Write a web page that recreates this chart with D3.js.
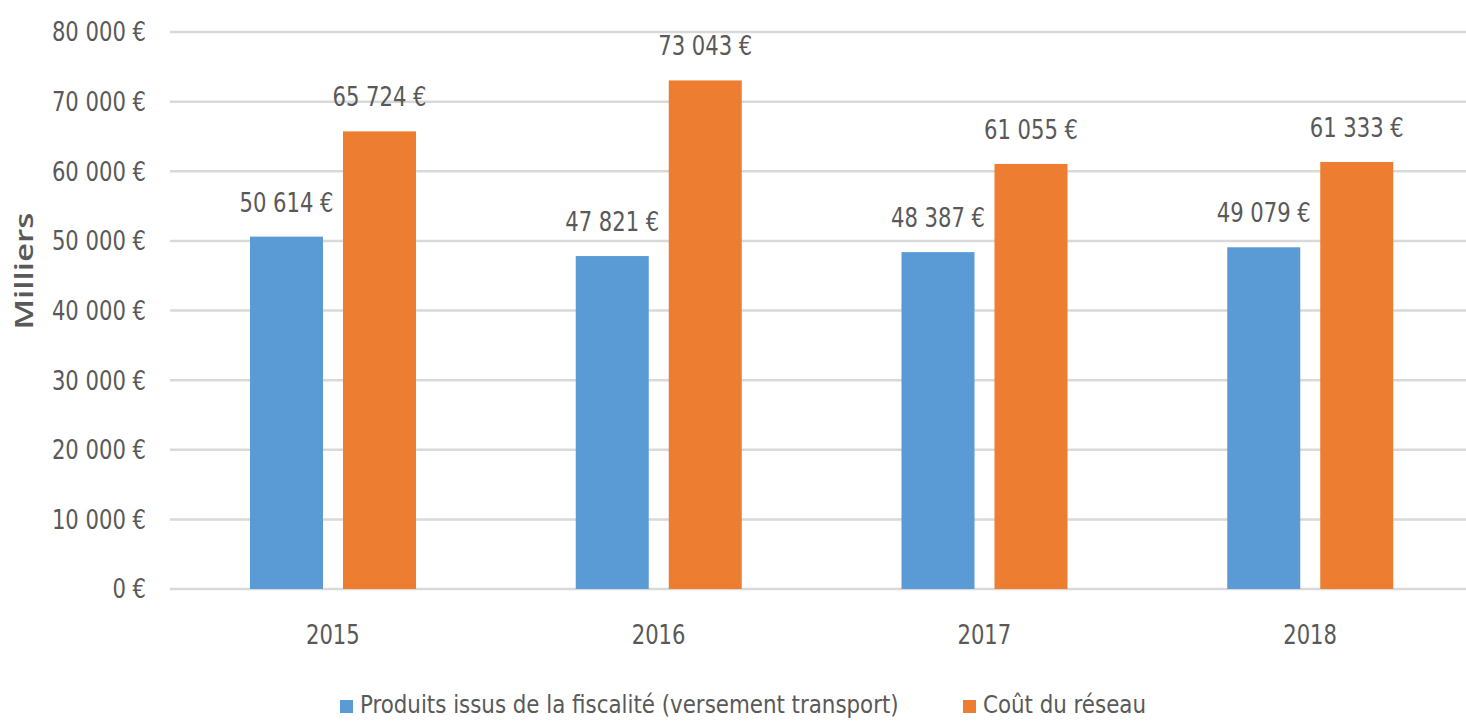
<!DOCTYPE html>
<html>
<head>
<meta charset="utf-8">
<script src="https://cdn.jsdelivr.net/npm/d3@7"></script>
<style>
  body { margin: 0; background: #fff; }
  text { font-family: "DejaVu Sans Condensed", "Liberation Sans", sans-serif; fill: #595959; }
</style>
</head>
<body>
<div id="chart"></div>
<script>
// data
const years = ["2015", "2016", "2017", "2018"];
const produits = [50614, 47821, 48387, 49079];
const cout = [65724, 73043, 61055, 61333];
const seriesNames = ["Produits issus de la fiscalité (versement transport)", "Coût du réseau"];
const yTicks = [0, 10000, 20000, 30000, 40000, 50000, 60000, 70000, 80000];

const colors = ["#5B9BD5", "#ED7D31"];
const width = 1466, height = 721;
const squeeze = 0.87; // reference font is narrower than what is installed

const fr = d3.formatLocale({decimal: ",", thousands: " ", grouping: [3], currency: ["", " €"]});
const fmt = fr.format("$,.0f");

// shrink text horizontally
function narrow(sel, k) {
  sel.each(function() {
    const w = this.getComputedTextLength();
    d3.select(this).attr("textLength", w * k).attr("lengthAdjust", "spacingAndGlyphs");
  });
}

const svg = d3.select("#chart").append("svg")
  .attr("width", width).attr("height", height);

const x = d3.scaleBand().domain(years).range([170, 1473]);
const y = d3.scaleLinear().domain([0, 80000]).range([589, 32]);

// gridlines
svg.append("g").selectAll("line")
  .data(yTicks).enter().append("line")
  .attr("x1", 170).attr("x2", width)
  .attr("y1", d => y(d)).attr("y2", d => y(d))
  .style("stroke", "#d9d9d9").style("stroke-width", 2.5);

// y labels
svg.append("g").selectAll("text")
  .data(yTicks).enter().append("text")
  .attr("x", 146).attr("y", d => y(d))
  .attr("dy", "0.35em")
  .style("text-anchor", "end")
  .style("font-size", "27px")
  .text(d => fmt(d))
  .call(narrow, squeeze);

// axis title
svg.append("text")
  .attr("transform", "translate(33,271)rotate(-90)")
  .style("text-anchor", "middle")
  .style("font-family", "'Open Sans', sans-serif")
  .style("font-weight", "600")
  .style("font-size", "25px")
  .attr("textLength", 117)
  .attr("lengthAdjust", "spacingAndGlyphs")
  .text("Milliers");

// x labels
svg.append("g").selectAll("text")
  .data(years).enter().append("text")
  .attr("x", d => x(d) + x.bandwidth() / 2).attr("y", 644)
  .style("text-anchor", "middle")
  .style("font-size", "27px")
  .text(d => d)
  .call(narrow, squeeze);

const bw = 73, gap = 20, off = 80;
const rows = years.map((yr, i) => [
  {yr: yr, v: produits[i], s: 0},
  {yr: yr, v: cout[i], s: 1}
]).flat();

const bx = d => x(d.yr) + off + d.s * (bw + gap);

svg.append("g").selectAll("rect")
  .data(rows).enter().append("rect")
  .attr("x", bx)
  .attr("y", d => y(d.v))
  .attr("width", bw)
  .attr("height", d => y(0) - y(d.v))
  .style("fill", d => colors[d.s]);

// data labels
svg.append("g").selectAll("text")
  .data(rows).enter().append("text")
  .attr("x", d => bx(d) + bw / 2)
  .attr("y", d => y(d.v) - 25)
  .style("text-anchor", "middle")
  .style("font-size", "27px")
  .text(d => fmt(d.v))
  .call(narrow, squeeze);

// legend
const leg = svg.append("g");
const legX = [340, 963];
seriesNames.forEach((n, i) => {
  leg.append("rect")
    .attr("x", legX[i]).attr("y", 700)
    .attr("width", 13).attr("height", 13)
    .style("fill", colors[i]);
  leg.append("text")
    .attr("x", legX[i] + 20).attr("y", 713)
    .style("font-size", "25px")
    .text(n)
    .call(narrow, 0.95);
});
</script>
</body>
</html>
